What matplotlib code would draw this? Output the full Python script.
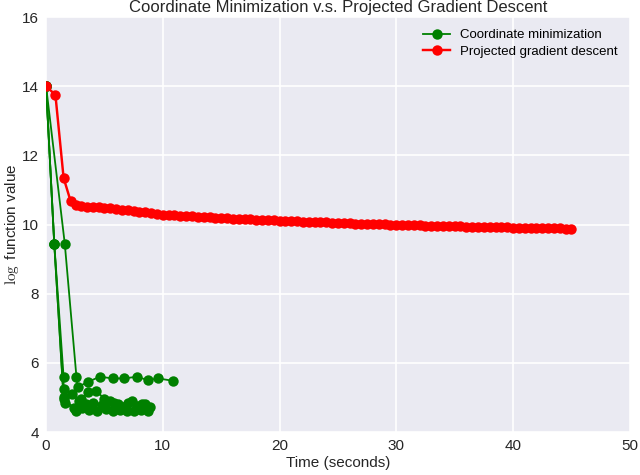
import numpy as np
import matplotlib
matplotlib.use('Agg')
from matplotlib import pyplot as plt

# coordinate minimization, several runs (time in seconds, log function value)
cm_time_1 = [0, 0.7, 1.5, 1.6, 2.6, 3.1, 3.7, 4.4, 5.1, 5.7, 6.3, 6.9, 7.5, 8.1, 8.7]
cm_val_1 = [14, 9.45, 5.0, 4.85, 4.62, 4.7, 4.65, 4.62, 4.68, 4.62, 4.65, 4.6, 4.62, 4.65, 4.62]
cm_time_2 = [0, 1.6, 2.6, 2.7, 3.6, 4.6, 5.7, 6.7, 7.8, 8.7, 9.6, 10.9]
cm_val_2 = [14, 9.45, 5.6, 5.3, 5.45, 5.6, 5.55, 5.55, 5.6, 5.5, 5.55, 5.48]
cm_time_3 = [0, 0.7, 1.5, 1.5, 2.2, 2.8, 3.4, 4.0, 4.8, 5.5, 6.2, 7.0, 7.8, 8.5]
cm_val_3 = [14, 9.45, 5.6, 5.25, 5.1, 4.9, 4.8, 4.85, 4.78, 4.9, 4.8, 4.85, 4.75, 4.8]
cm_time_4 = [0, 0.7, 1.5, 2.4, 3.0, 3.6, 4.3, 5.0, 5.8, 6.6, 7.4, 8.2, 8.9]
cm_val_4 = [14, 9.45, 4.95, 4.7, 4.95, 5.15, 5.2, 4.95, 4.85, 4.72, 4.9, 4.8, 4.72]

# projected gradient descent
pgd_time = [0, 0.8, 1.5, 2.1, 2.6,
            3.0, 3.5, 4.0, 4.5, 5.0, 5.5, 6.0, 6.5, 7.0, 7.5, 8.0, 8.5, 9.0, 9.5, 10.0,
            10.5, 11.0, 11.5, 12.0, 12.5, 13.0, 13.5, 14.0, 14.5, 15.0, 15.5, 16.0, 16.5,
            17.0, 17.5, 18.0, 18.5, 19.0, 19.5, 20.0, 20.5, 21.0, 21.5, 22.0, 22.5, 23.0,
            23.5, 24.0, 24.5, 25.0, 25.5, 26.0, 26.5, 27.0, 27.5, 28.0, 28.5, 29.0, 29.5,
            30.0, 30.5, 31.0, 31.5, 32.0, 32.5, 33.0, 33.5, 34.0, 34.5, 35.0, 35.5, 36.0,
            36.5, 37.0, 37.5, 38.0, 38.5, 39.0, 39.5, 40.0, 40.5, 41.0, 41.5, 42.0, 42.5,
            43.0, 43.5, 44.0, 44.5, 45.0]
pgd_val = [14.0, 13.75, 11.35, 10.68, 10.56,
           10.53, 10.52, 10.51, 10.50, 10.48, 10.47, 10.45, 10.43, 10.41, 10.39, 10.37,
           10.35, 10.33, 10.31, 10.29, 10.28, 10.27, 10.26, 10.25, 10.24, 10.23, 10.22,
           10.21, 10.20, 10.19, 10.18, 10.17, 10.16, 10.16, 10.15, 10.14, 10.13, 10.12,
           10.12, 10.11, 10.10, 10.10, 10.09, 10.08, 10.08, 10.07, 10.06, 10.06, 10.05,
           10.05, 10.04, 10.04, 10.03, 10.03, 10.02, 10.02, 10.01, 10.01, 10.00, 10.00,
           9.99, 9.99, 9.98, 9.98, 9.97, 9.97, 9.96, 9.96, 9.96, 9.95, 9.95, 9.94, 9.94,
           9.94, 9.93, 9.93, 9.92, 9.92, 9.92, 9.91, 9.91, 9.91, 9.90, 9.90, 9.90, 9.89,
           9.89, 9.89, 9.88, 9.88]

plt.rcParams['font.family'] = ['Liberation Sans', 'DejaVu Sans']
plt.rcParams['mathtext.fontset'] = 'cm'

fig = plt.figure(figsize=(6.4, 4.75), dpi=100)
ax = fig.add_axes([0.072, 0.0905, 0.912, 0.8735])
ax.set_facecolor('#EAEAF2')
for s in ax.spines.values():
    s.set_visible(False)
ax.grid(True, color='white', linewidth=1.2)
ax.set_axisbelow(True)
ax.tick_params(length=0, labelsize=11, colors='#262626', pad=5)

green = '#008000'
ax.plot(cm_time_1, cm_val_1, '-o', color=green, lw=1.3, ms=7.5, mew=0, label='Coordinate minimization')
ax.plot(cm_time_2, cm_val_2, '-o', color=green, lw=1.3, ms=7.5, mew=0)
ax.plot(cm_time_3, cm_val_3, '-o', color=green, lw=1.3, ms=7.5, mew=0)
ax.plot(cm_time_4, cm_val_4, '-o', color=green, lw=1.3, ms=7.5, mew=0)
ax.plot(pgd_time, pgd_val, '-o', color='red', lw=1.75, ms=7.5, mew=0, label='Projected gradient descent')

ax.set_xlim(0, 50)
ax.set_ylim(4, 16)
ax.set_xticks([0, 10, 20, 30, 40, 50])
ax.set_yticks([4, 6, 8, 10, 12, 14, 16])
ax.set_title('Coordinate Minimization v.s. Projected Gradient Descent', fontsize=12, color='#262626', pad=4)
ax.set_xlabel('Time (seconds)', fontsize=11, color='#262626', labelpad=2)
ax.set_ylabel(r'$\log$ function value', fontsize=11, color='#262626', labelpad=1)
ax.legend(loc='upper right', frameon=False, fontsize=9.5, numpoints=1, handlelength=2,
          markerscale=1.0, borderaxespad=0.5, labelspacing=0.35)

fig.savefig('out.png', dpi=100)
